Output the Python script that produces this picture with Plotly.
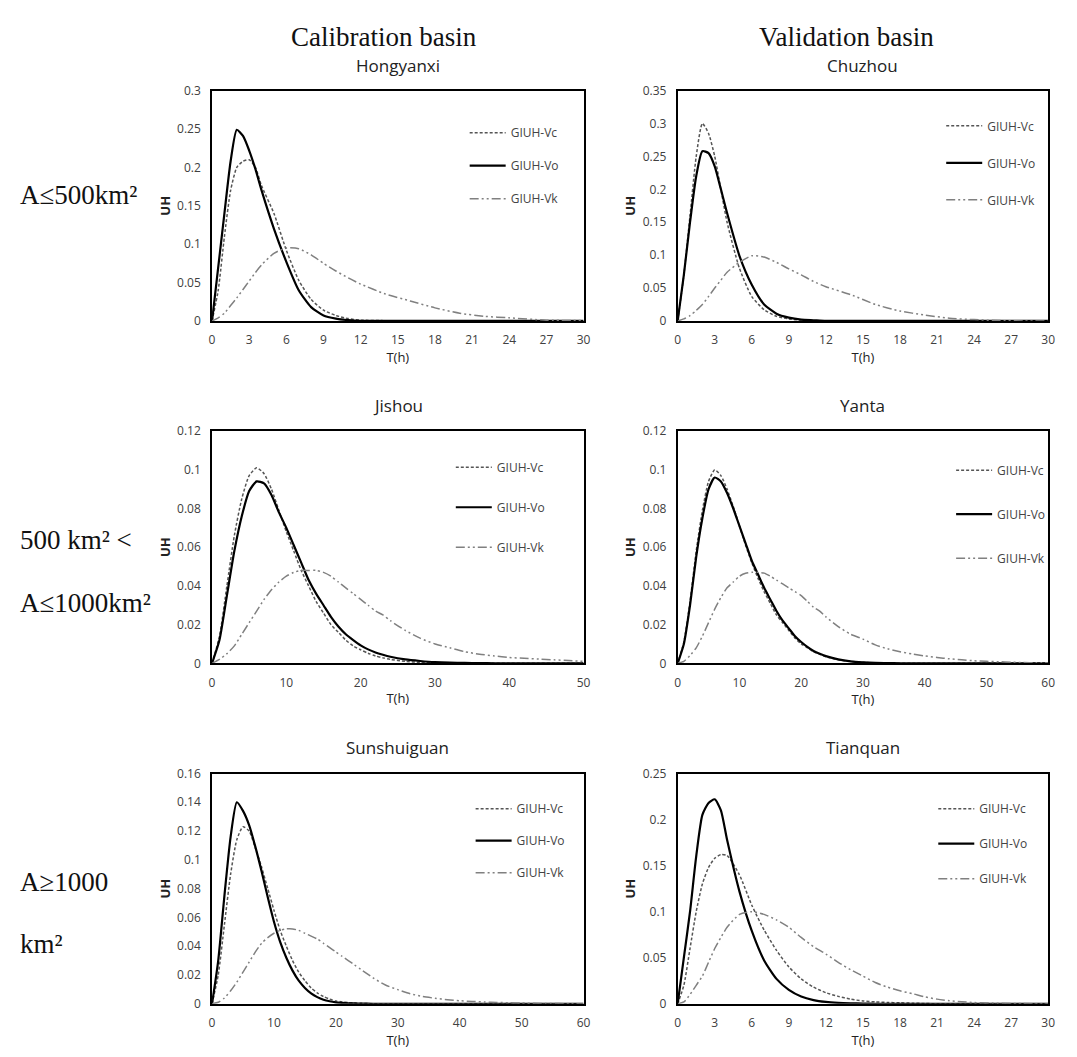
import plotly.graph_objects as go

# ---------------- data: unit hydrograph ordinates (UH) vs time T (h) ----------------
stations = ["Hongyanxi", "Chuzhou", "Jishou", "Yanta", "Sunshuiguan", "Tianquan"]
series_names = ["GIUH-Vc", "GIUH-Vo", "GIUH-Vk"]

# Hongyanxi
hong_t = [0, 0.5, 1, 1.5, 2, 2.5, 3, 3.5, 4, 5, 6, 7, 8, 9, 10, 11, 12, 14, 16, 18, 20, 22, 24, 27, 30]
hong_vc = [0, 0.04, 0.11, 0.17, 0.2, 0.208, 0.21, 0.2, 0.176, 0.14, 0.092, 0.053, 0.028, 0.014, 0.007,
           0.003, 0.001, 0.0003, 0, 0, 0, 0, 0, 0, 0]
hong_vo = [0, 0.07, 0.14, 0.208, 0.249, 0.241, 0.222, 0.198, 0.17, 0.12, 0.077, 0.04, 0.018, 0.007, 0.003,
           0.001, 0, 0, 0, 0, 0, 0, 0, 0, 0]
hong_vk = [0, 0.004, 0.01, 0.02, 0.03, 0.041, 0.052, 0.063, 0.073, 0.088, 0.095, 0.094, 0.086, 0.075, 0.065,
           0.056, 0.048, 0.035, 0.026, 0.017, 0.01, 0.006, 0.004, 0.001, 0.0005]

# Chuzhou
chu_t = [0, 0.5, 1, 1.5, 2, 2.5, 3, 3.5, 4, 5, 6, 7, 8, 9, 10, 11, 12, 14, 16, 18, 20, 22, 24, 26, 28, 30]
chu_vc = [0, 0.07, 0.16, 0.25, 0.3, 0.285, 0.25, 0.2, 0.15, 0.08, 0.037, 0.017, 0.007, 0.003, 0.001,
          0, 0, 0, 0, 0, 0, 0, 0, 0, 0, 0]
chu_vo = [0, 0.07, 0.15, 0.22, 0.258, 0.255, 0.235, 0.2, 0.164, 0.099, 0.055, 0.025, 0.011, 0.005, 0.002,
          0.001, 0, 0, 0, 0, 0, 0, 0, 0, 0, 0]
chu_vk = [0, 0.003, 0.008, 0.016, 0.025, 0.037, 0.05, 0.062, 0.074, 0.089, 0.099, 0.097, 0.089, 0.079, 0.07,
          0.06, 0.052, 0.04, 0.025, 0.015, 0.009, 0.004, 0.002, 0.0005, 0, 0]

# Jishou
ji_t = list(range(0, 25)) + [26, 28, 30, 32, 34, 36, 38, 40, 42, 44, 46, 48, 50]
ji_vc = [0, 0.014, 0.04, 0.066, 0.085, 0.097, 0.101, 0.098, 0.09, 0.079, 0.068, 0.058, 0.048, 0.04, 0.032,
         0.026, 0.02, 0.016, 0.012, 0.009, 0.007, 0.0052, 0.0038, 0.0028, 0.002,
         0.001, 0.0005, 0.0002, 0, 0, 0, 0, 0, 0, 0, 0, 0, 0]
ji_vo = [0, 0.012, 0.035, 0.058, 0.076, 0.089, 0.094, 0.093, 0.087, 0.078, 0.07, 0.061, 0.052, 0.043, 0.036,
         0.03, 0.024, 0.019, 0.015, 0.012, 0.0093, 0.0072, 0.0056, 0.0044, 0.0034,
         0.002, 0.0012, 0.0006, 0.0003, 0.0002, 0.0001, 0, 0, 0, 0, 0, 0, 0]
ji_vk = [0, 0.002, 0.005, 0.009, 0.015, 0.021, 0.027, 0.033, 0.038, 0.042, 0.045, 0.047, 0.048, 0.048, 0.048,
         0.047, 0.045, 0.042, 0.039, 0.036, 0.033, 0.03, 0.027, 0.025, 0.022,
         0.017, 0.013, 0.01, 0.008, 0.006, 0.0047, 0.0038, 0.003, 0.0026, 0.0022, 0.0018, 0.0014, 0.001]

# Yanta
yan_t = list(range(0, 25)) + list(range(26, 61, 2))
yan_vc = [0, 0.011, 0.032, 0.058, 0.079, 0.094, 0.1, 0.097, 0.09, 0.081, 0.071, 0.061, 0.052, 0.044, 0.037,
          0.031, 0.025, 0.021, 0.017, 0.013, 0.01, 0.008, 0.006, 0.0046, 0.0034,
          0.0018, 0.001, 0.0005, 0.0002, 0, 0, 0, 0, 0, 0, 0, 0, 0, 0, 0, 0, 0, 0]
yan_vo = [0, 0.01, 0.03, 0.055, 0.075, 0.09, 0.096, 0.094, 0.088, 0.08, 0.071, 0.062, 0.053, 0.046, 0.039,
          0.033, 0.027, 0.022, 0.018, 0.014, 0.011, 0.0085, 0.0064, 0.0049, 0.0037,
          0.002, 0.001, 0.0005, 0.0002, 0.0001, 0, 0, 0, 0, 0, 0, 0, 0, 0, 0, 0, 0, 0]
yan_vk = [0, 0.001, 0.004, 0.008, 0.014, 0.021, 0.028, 0.034, 0.039, 0.042, 0.045, 0.0465, 0.047, 0.047, 0.0466,
          0.045, 0.043, 0.041, 0.039, 0.037, 0.035, 0.032, 0.029, 0.027, 0.024,
          0.019, 0.015, 0.0125, 0.0095, 0.0075, 0.006, 0.0048, 0.0038, 0.003, 0.0023, 0.0018, 0.0013,
          0.001, 0.0008, 0.0006, 0.0004, 0.0003, 0.0002]

# Sunshuiguan
sun_t = list(range(0, 25)) + list(range(26, 61, 2))
sun_vc = [0, 0.02, 0.055, 0.09, 0.114, 0.123, 0.12, 0.108, 0.095, 0.08, 0.065, 0.051, 0.04, 0.03, 0.022,
          0.016, 0.011, 0.0075, 0.005, 0.0032, 0.002, 0.0013, 0.0008, 0.0005, 0.0003,
          0, 0, 0, 0, 0, 0, 0, 0, 0, 0, 0, 0, 0, 0, 0, 0, 0, 0]
sun_vo = [0, 0.03, 0.075, 0.116, 0.14, 0.134, 0.124, 0.109, 0.092, 0.074, 0.057, 0.043, 0.032, 0.023, 0.016,
          0.011, 0.0072, 0.0046, 0.0028, 0.0017, 0.001, 0.0006, 0.0003, 0.0002, 0.0001,
          0, 0, 0, 0, 0, 0, 0, 0, 0, 0, 0, 0, 0, 0, 0, 0, 0, 0]
sun_vk = [0, 0.001, 0.004, 0.009, 0.015, 0.022, 0.029, 0.036, 0.042, 0.046, 0.049, 0.051, 0.052, 0.052, 0.051,
          0.049, 0.047, 0.045, 0.042, 0.039, 0.036, 0.033, 0.03, 0.027, 0.024,
          0.018, 0.013, 0.0098, 0.007, 0.005, 0.0038, 0.0028, 0.0021, 0.0016, 0.0012, 0.0009, 0.0007,
          0.0005, 0.0003, 0.0002, 0.0001, 0, 0]

# Tianquan
tian_t = [0, 0.5, 1, 1.5, 2, 2.5, 3, 3.5, 4] + list(range(5, 25)) + [26, 28, 30]
tian_vc = [0, 0.02, 0.06, 0.1, 0.13, 0.148, 0.158, 0.162, 0.161,
           0.14, 0.107, 0.08, 0.058, 0.04, 0.027, 0.018, 0.012, 0.008, 0.005, 0.003, 0.002, 0.0014, 0.001,
           0.0006, 0.0003, 0, 0, 0, 0, 0, 0, 0]
tian_vo = [0, 0.05, 0.1, 0.16, 0.205, 0.218, 0.222, 0.21, 0.178,
           0.122, 0.079, 0.047, 0.027, 0.015, 0.0078, 0.004, 0.002, 0.001, 0.0005, 0.0002, 0, 0, 0,
           0, 0, 0, 0, 0, 0, 0, 0, 0]
tian_vk = [0, 0.002, 0.01, 0.02, 0.03, 0.045, 0.06, 0.072, 0.083,
           0.097, 0.1, 0.097, 0.091, 0.083, 0.072, 0.062, 0.054, 0.045, 0.037, 0.03, 0.023, 0.018, 0.014,
           0.011, 0.0075, 0.005, 0.0033, 0.0022, 0.0013, 0.0005, 0.0002, 0]

station_data = {
    "Hongyanxi": (hong_t, hong_vc, hong_vo, hong_vk),
    "Chuzhou": (chu_t, chu_vc, chu_vo, chu_vk),
    "Jishou": (ji_t, ji_vc, ji_vo, ji_vk),
    "Yanta": (yan_t, yan_vc, yan_vo, yan_vk),
    "Sunshuiguan": (sun_t, sun_vc, sun_vo, sun_vk),
    "Tianquan": (tian_t, tian_vc, tian_vo, tian_vk),
}

# axis extents per panel: (x max, x step, y max, y step)
axis_ranges = {
    "Hongyanxi": (30, 3, 0.3, 0.05),
    "Chuzhou": (30, 3, 0.35, 0.05),
    "Jishou": (50, 10, 0.12, 0.02),
    "Yanta": (60, 10, 0.12, 0.02),
    "Sunshuiguan": (60, 10, 0.16, 0.02),
    "Tianquan": (30, 3, 0.25, 0.05),
}

column_headers = ["Calibration basin", "Validation basin"]
row_labels = [["A≤500km²"],
              ["500 km² <", "A≤1000km²"],
              ["A≥1000", "km²"]]

# ---------------- layout geometry (pixels on a 1077 x 1057 page) ----------------
W, H = 1077, 1057


def fx(x):
    return x / W


def fy(y):
    return 1 - y / H


col_px = [(211, 586), (681, 1055)]
row_px = [(83, 317), (429, 665), (777, 1011)]
# legend placement: (left px of sample line, top px of legend box, gap between entries)
legend_px = [(467, 111, 14), (948, 104, 18),
             (453, 451, 21), (958, 454, 25),
             (473, 798, 13), (940, 798, 16)]

line_styles = [
    dict(color="#555555", width=1.5, dash="3px,2px"),
    dict(color="#000000", width=2.2, dash="solid"),
    dict(color="#808080", width=1.5, dash="9px,3px,2px,3px,2px,3px"),
]

tick_font = dict(family="Open Sans", size=12, color="#404040")
title_font = dict(family="Open Sans", size=13, color="#222222")

fig = go.Figure()
layout = dict(
    width=W, height=H,
    margin=dict(l=0, r=0, t=0, b=0),
    paper_bgcolor="white", plot_bgcolor="white",
    showlegend=True,
)
annotations = []

for i, name in enumerate(stations):
    r, c = divmod(i, 2)
    k = i + 1
    xa = "x" if k == 1 else f"x{k}"
    ya = "y" if k == 1 else f"y{k}"
    lg = "legend" if k == 1 else f"legend{k}"
    t, vc, vo, vk = station_data[name]
    for j, vals in enumerate([vc, vo, vk]):
        fig.add_trace(go.Scatter(
            x=t, y=vals, mode="lines", name=series_names[j],
            line=dict(shape="spline", smoothing=0.6, **line_styles[j]),
            xaxis=xa, yaxis=ya, legend=lg, legendgroup=f"{name}{j}",
            showlegend=True, hoverinfo="skip",
        ))
    xmax, xstep, ymax, ystep = axis_ranges[name]
    x0, x1 = col_px[c]
    y0, y1 = row_px[r]
    axis_common = dict(
        showline=True, linecolor="black", linewidth=1.6, mirror=True,
        showgrid=False, zeroline=False, ticks="", tickfont=tick_font,
        ticklabelstandoff=7,
    )
    layout["xaxis" if k == 1 else f"xaxis{k}"] = dict(
        domain=[fx(x0), fx(x1)], range=[0, xmax], dtick=xstep, tick0=0,
        anchor=ya, title=dict(text="T(h)", font=title_font, standoff=4),
        **axis_common,
    )
    layout["yaxis" if k == 1 else f"yaxis{k}"] = dict(
        domain=[fy(y1), fy(y0)], range=[0, ymax], dtick=ystep, tick0=0,
        anchor=xa, title=dict(text="<b>UH</b>", font=title_font, standoff=4),
        **axis_common,
    )
    lx, ly, gap = legend_px[i]
    layout[lg] = dict(
        x=fx(lx - 1), y=fy(ly), xanchor="left", yanchor="top",
        bgcolor="rgba(0,0,0,0)", borderwidth=0,
        font=dict(family="Open Sans", size=12, color="#444444"),
        traceorder="grouped", tracegroupgap=gap, itemwidth=36,
    )
    # panel title
    annotations.append(dict(
        text=name, x=fx((x0 + x1) / 2), y=fy(y0 - 26), xref="paper", yref="paper",
        xanchor="center", yanchor="middle", showarrow=False,
        font=dict(family="Open Sans", size=17, color="#222222"),
    ))

# column headers
for c, text in enumerate(column_headers):
    cx = [385, 851][c]
    annotations.append(dict(
        text=text, x=fx(cx), y=fy(28), xref="paper", yref="paper",
        xanchor="center", yanchor="middle", showarrow=False,
        font=dict(family="Liberation Serif", size=27, color="#111111"),
    ))

# row labels
row_label_y = [[189], [540, 604], [887, 950]]
for lines, ys in zip(row_labels, row_label_y):
    for text, yy in zip(lines, ys):
        annotations.append(dict(
            text=text, x=fx(15), y=fy(yy), xref="paper", yref="paper",
            xanchor="left", yanchor="middle", showarrow=False,
            font=dict(family="Liberation Serif", size=27, color="#111111"),
        ))

layout["annotations"] = annotations
fig.update_layout(**layout)
# page body without default margin so the figure fills the window exactly
fig.write_html("out.html", post_script="document.body.style.margin='0';")
